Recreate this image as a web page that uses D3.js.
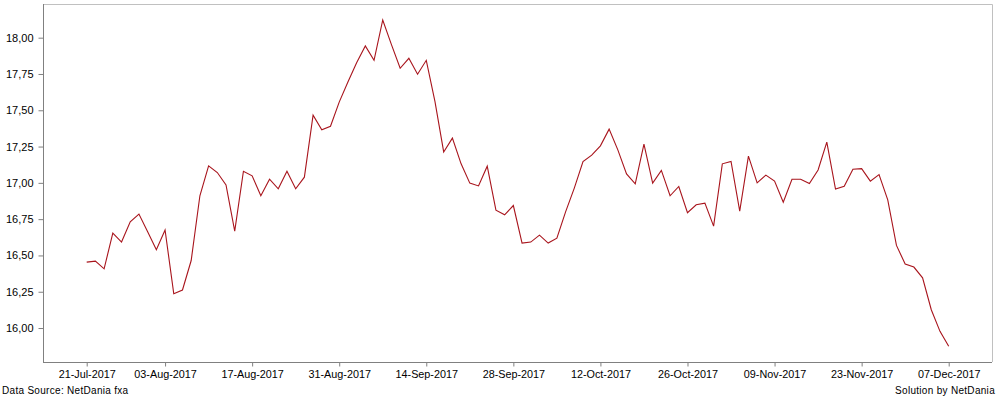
<!DOCTYPE html>
<html><head><meta charset="utf-8">
<script src="https://cdn.jsdelivr.net/npm/d3@7"></script>
<style>body{margin:0;background:#fff}svg{display:block}text{font-family:"Liberation Sans",Arial,sans-serif}</style>
</head><body>
<svg id="c" width="1000" height="400"></svg>
<script>
// Daily closes (trading days from 21-Jul-2017 to 07-Dec-2017)
const startDate = "2017-07-21";
const values = [
16.454,16.461,16.408,16.654,16.592,16.732,16.785,16.663,16.539,16.675,
16.236,16.262,16.465,16.911,17.117,17.071,16.986,16.668,17.080,17.048,
16.911,17.025,16.959,17.080,16.959,17.039,17.466,17.365,17.390,17.556,
17.695,17.828,17.943,17.844,18.122,17.952,17.789,17.858,17.748,17.844,
17.559,17.213,17.308,17.131,16.998,16.979,17.115,16.812,16.780,16.844,
16.585,16.592,16.640,16.585,16.619,16.800,16.964,17.147,17.191,17.255,
17.370,17.227,17.062,16.993,17.266,16.998,17.086,16.911,16.975,16.794,
16.849,16.860,16.702,17.131,17.147,16.805,17.184,17.000,17.053,17.012,
16.867,17.025,17.025,16.995,17.089,17.280,16.957,16.977,17.094,17.098,
17.012,17.057,16.883,16.569,16.441,16.420,16.346,16.126,15.977,15.874
];
const xTickLabels = ["21-Jul-2017","03-Aug-2017","17-Aug-2017","31-Aug-2017","14-Sep-2017","28-Sep-2017","12-Oct-2017","26-Oct-2017","09-Nov-2017","23-Nov-2017","07-Dec-2017"];
const yTicks = [16.00,16.25,16.50,16.75,17.00,17.25,17.50,17.75,18.00];
const yDomain = [15.766, 18.232];
const sourceText = "Data Source: NetDania fxa";
const creditText = "Solution by NetDania";

// build trading-day dates (weekdays)
const fmt = d3.timeFormat("%d-%b-%Y");
const dates = [];
let d = new Date(startDate + "T12:00:00");
while (dates.length < values.length) {
  const wd = d.getDay();
  if (wd !== 0 && wd !== 6) dates.push(fmt(d));
  d = d3.timeDay.offset(d, 1);
}
const data = dates.map((k, i) => ({date: k, value: values[i]}));

const svg = d3.select("#c");
const L = 43, R = 992, T = 4, B = 362;

const x = d3.scalePoint().domain(dates).range([86.7, 948.7]);
const y = d3.scaleLinear().domain(yDomain).range([B, T]);

// frame
svg.append("path").attr("d", `M${L},${T+0.5}H${R+0.5}V${B}`)
  .attr("fill", "none").attr("stroke", "#c0c0c0").attr("stroke-width", 1);

const yAxis = d3.axisLeft(y).tickValues(yTicks).tickSize(5).tickPadding(5)
  .tickFormat(v => d3.format(".2f")(v).replace(".", ","));
const gy = svg.append("g").attr("transform", `translate(${L+0.5},0)`).call(yAxis);
gy.select(".domain").attr("stroke", "#808080").attr("d", `M0,${T}V${B}`);
gy.selectAll(".tick line").attr("stroke", "#808080");
gy.selectAll(".tick text").attr("fill", "#000").style("font-size", "11px");

const xAxis = d3.axisBottom(x).tickValues(xTickLabels).tickSize(4).tickPadding(4);
const gx = svg.append("g").attr("transform", `translate(0,${B+0.5})`).call(xAxis);
gx.select(".domain").attr("stroke", "#808080").attr("d", `M${L},0H${R}`);
gx.selectAll(".tick line").attr("stroke", "#808080");
gx.selectAll(".tick text").attr("fill", "#000").style("font-size", "10.8px");

const line = d3.line().x(p => x(p.date)).y(p => y(p.value));
svg.append("path").datum(data).attr("d", line)
  .attr("fill", "none").attr("stroke", "#a8141c").attr("stroke-width", 1.1);

svg.append("text").attr("x", 2).attr("y", 394).text(sourceText)
  .style("font-size", "10px").style("letter-spacing", "0.3px").attr("fill", "#000");
svg.append("text").attr("x", 995).attr("y", 394).attr("text-anchor", "end").text(creditText)
  .style("font-size", "10px").style("letter-spacing", "0.3px").attr("fill", "#000");
</script>
</body></html>
